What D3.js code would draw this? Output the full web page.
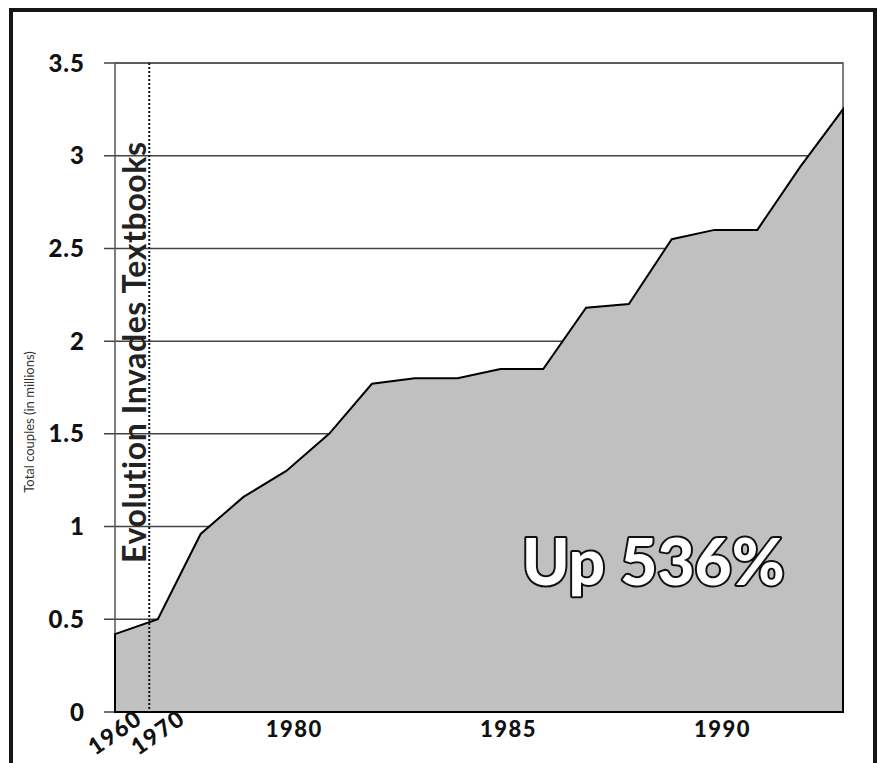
<!DOCTYPE html>
<meta charset="utf-8">
<script src="https://cdn.jsdelivr.net/npm/d3@7"></script>
<style>
body { margin: 0; background: #fff; }
text { font-family: "Gill Sans", Lato, "Open Sans", sans-serif; }
</style>
<body>
<script>
// categories along the bottom (evenly spaced, like the original spreadsheet chart)
var years = ["1960", "1970", "1975", "1978", "1980", "1981", "1982", "1983", "1984",
             "1985", "1986", "1987", "1988", "1989", "1990", "1991", "1992", "1993"];
// total couples, millions
var couples = [0.42, 0.50, 0.96, 1.16, 1.30, 1.50, 1.77, 1.80, 1.80,
               1.85, 1.85, 2.18, 2.20, 2.55, 2.60, 2.60, 2.94, 3.25];
var yTicks = [0, 0.5, 1, 1.5, 2, 2.5, 3, 3.5];
var yTickLabels = ["0", "0.5", "1", "1.5", "2", "2.5", "3", "3.5"];
var xTickFlat = ["1980", "1985", "1990"];
var xTickTilted = ["1960", "1970"];
var eventYear = 1968;
var eventLabel = "Evolution Invades Textbooks";
var bigNote = "Up 536%";
var yTitle = "Total couples (in millions)";

var W = 880, H = 763;
var margin = {top: 63, right: 37, bottom: 51, left: 115},
    width = W - margin.left - margin.right,
    height = H - margin.top - margin.bottom;

var svg = d3.select("body").append("svg")
    .attr("width", W)
    .attr("height", H);

// outer frame
svg.append("rect")
    .attr("x", 11).attr("y", 10)
    .attr("width", 864).attr("height", 800)
    .attr("fill", "none")
    .attr("stroke", "#151515")
    .attr("stroke-width", 4);

var g = svg.append("g")
    .attr("transform", "translate(" + margin.left + "," + margin.top + ")");

var x = d3.scalePoint().domain(years).range([0, width]).padding(0);
var y = d3.scaleLinear().domain([0, 3.5]).range([height, 0]);

// gridlines + tick stubs
g.selectAll(".grid")
    .data(yTicks)
    .enter().append("line")
    .attr("x1", -11)
    .attr("x2", width)
    .attr("y1", function(d) { return y(d); })
    .attr("y2", function(d) { return y(d); })
    .attr("stroke", "#444")
    .attr("stroke-width", 1.5);

// plot frame
g.append("rect")
    .attr("x", 0).attr("y", 0)
    .attr("width", width).attr("height", height)
    .attr("fill", "none")
    .attr("stroke", "#555")
    .attr("stroke-width", 1.5);

var area = d3.area()
    .x(function(d, i) { return x(years[i]); })
    .y0(y(0))
    .y1(function(d) { return y(d); });

g.append("path")
    .datum(couples)
    .attr("d", area)
    .attr("fill", "#c0c0c0")
    .attr("stroke", "#000")
    .attr("stroke-width", 2)
    .attr("stroke-linejoin", "miter");

// y tick labels
g.selectAll(".ylab")
    .data(yTicks)
    .enter().append("text")
    .attr("x", -30)
    .attr("y", function(d) { return y(d); })
    .attr("dy", "0.36em")
    .attr("text-anchor", "end")
    .style("font-size", "24px")
    .style("font-weight", "900")
    .style("letter-spacing", "1px")
    .attr("fill", "#111")
    .text(function(d, i) { return yTickLabels[i]; });

// x tick labels
g.selectAll(".xlab")
    .data(xTickFlat)
    .enter().append("text")
    .attr("x", function(d) { return x(d) + 8; })
    .attr("y", height + 25)
    .attr("text-anchor", "middle")
    .style("font-size", "22px")
    .style("font-weight", "900")
    .style("letter-spacing", "1.5px")
    .attr("fill", "#111")
    .text(function(d) { return d; });

g.selectAll(".xlabt")
    .data(xTickTilted)
    .enter().append("text")
    .attr("transform", function(d) {
      return "translate(" + (x(d) + 29) + "," + (height + 10) + ") rotate(-35)";
    })
    .attr("text-anchor", "end")
    .style("font-size", "23px")
    .style("font-weight", "900")
    .style("letter-spacing", "1.5px")
    .attr("fill", "#111")
    .text(function(d) { return d; });

// event marker
var ex = x("1960") + (x("1970") - x("1960")) * (eventYear - 1960) / 10;
g.append("line")
    .attr("x1", ex).attr("x2", ex)
    .attr("y1", 0).attr("y2", height)
    .attr("stroke", "#111")
    .attr("stroke-width", 2)
    .attr("stroke-dasharray", "2,2");

g.append("text")
    .attr("transform", "translate(" + (ex - 3) + "," + (height - 149) + ") rotate(-90)")
    .style("font-size", "32px")
    .style("font-weight", "bold")
    .style("letter-spacing", "0.6px")
    .attr("fill", "#222")
    .text(eventLabel);

// big note
g.append("text")
    .attr("x", 407)
    .attr("y", 522)
    .style("font-size", "64px")
    .style("font-weight", "900")
    .attr("fill", "#fff")
    .attr("stroke", "#111")
    .attr("stroke-width", 4)
    .attr("paint-order", "stroke")
    .attr("stroke-linejoin", "round")
    .text(bigNote);

// y axis title
svg.append("text")
    .attr("transform", "translate(34,422) rotate(-90)")
    .attr("text-anchor", "middle")
    .style("font-size", "13px")
    .attr("fill", "#333")
    .text(yTitle);
</script>
</body>
